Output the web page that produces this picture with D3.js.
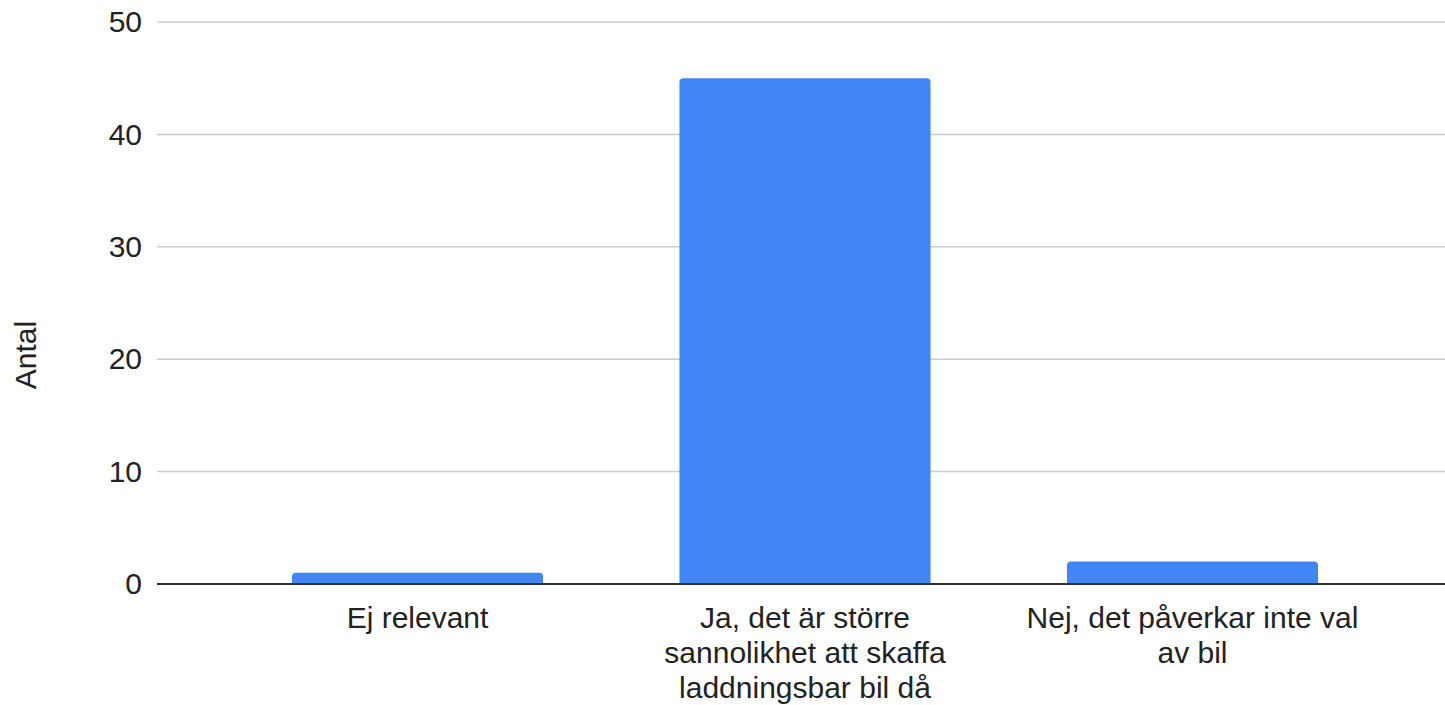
<!DOCTYPE html>
<html><head><meta charset="utf-8">
<script src="https://cdn.jsdelivr.net/npm/d3@7"></script>
<style>
html,body{margin:0;padding:0;background:#fff;}
svg{display:block;font-family:"Liberation Sans",Arial,sans-serif;}
</style></head>
<body>
<svg id="chart" width="1445" height="705"></svg>
<script>
const categories = ["Ej relevant", "Ja, det är större sannolikhet att skaffa laddningsbar bil då", "Nej, det påverkar inte val av bil"];
const categoryLines = [["Ej relevant"], ["Ja, det är större", "sannolikhet att skaffa", "laddningsbar bil då"], ["Nej, det påverkar inte val", "av bil"]];
const values = [1, 45, 2];
const yTicks = [0, 10, 20, 30, 40, 50];
const yTitle = "Antal";

const svg = d3.select("#chart");
const plotLeft = 157, plotRight = 1445, plotTop = 22, plotBottom = 584;
const fontSize = 30;

const y = d3.scaleLinear().domain([0, 50]).range([plotBottom, plotTop]);
const x = d3.scaleBand().domain(categories).range([223.75, 1386.25]).paddingInner(0.352).paddingOuter(0.176);

// gridlines
svg.append("g").selectAll("line").data(yTicks.filter(d => d !== 0)).join("line")
  .attr("x1", plotLeft).attr("x2", plotRight)
  .attr("y1", d => y(d)).attr("y2", d => y(d))
  .attr("stroke", "#cccccc").attr("stroke-width", 1.5);

// y axis labels
const yAxis = d3.axisLeft(y).tickValues(yTicks).tickSize(0).tickPadding(0).tickFormat(d3.format("d"));
const gy = svg.append("g").attr("transform", `translate(142,0)`).call(yAxis);
gy.select(".domain").remove();
gy.selectAll("text").attr("font-size", fontSize).attr("fill", "#222").attr("font-family", "Liberation Sans, Arial, sans-serif");

// bars
const r = 4;
svg.append("g").selectAll("path").data(values).join("path")
  .attr("fill", "#4285f4")
  .attr("d", (d, i) => {
    const x0 = x(categories[i]), w = x.bandwidth();
    const y0 = y(d), y1 = y(0);
    const rr = Math.min(r, (y1 - y0));
    return `M${x0},${y1} L${x0},${y0 + rr} Q${x0},${y0} ${x0 + rr},${y0} L${x0 + w - rr},${y0} Q${x0 + w},${y0} ${x0 + w},${y0 + rr} L${x0 + w},${y1} Z`;
  });

// baseline
svg.append("line").attr("x1", plotLeft).attr("x2", plotRight)
  .attr("y1", y(0)).attr("y2", y(0)).attr("stroke", "#333").attr("stroke-width", 2);

// x labels
const gx = svg.append("g");
categories.forEach((c, i) => {
  const t = gx.append("text")
    .attr("x", x(c) + x.bandwidth() / 2)
    .attr("y", 628)
    .attr("text-anchor", "middle")
    .attr("font-size", fontSize)
    .attr("fill", "#222");
  categoryLines[i].forEach((line, j) => {
    t.append("tspan").attr("x", x(c) + x.bandwidth() / 2).attr("dy", j === 0 ? 0 : 35).text(line);
  });
});

// y title
svg.append("text")
  .attr("transform", `translate(36,355) rotate(-90)`)
  .attr("text-anchor", "middle")
  .attr("font-size", fontSize)
  .attr("fill", "#222")
  .text(yTitle);
</script>
</body></html>
